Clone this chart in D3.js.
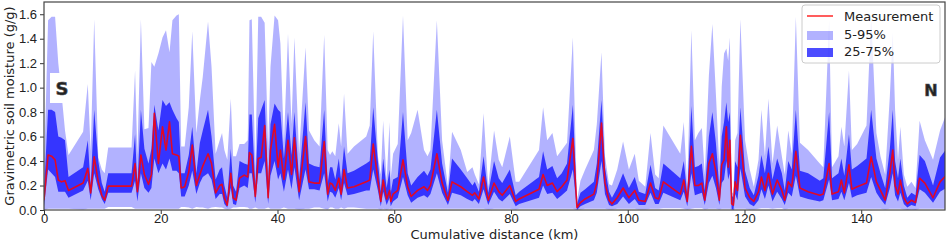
<!DOCTYPE html>
<html>
<head>
<meta charset="UTF-8">
<title>Gravimetric soil moisture along transect</title>
<script src="https://d3js.org/d3.v7.min.js"></script>
<style>
  body { margin: 0; background: #fff; }
  svg { display: block; font-family: "DejaVu Sans", sans-serif; }
  .axis text { font-size: 13px; fill: #222; }
  .axis path { display: none; }
  .axis line { stroke: #333; }
  .axis-title { font-size: 13px; fill: #222; text-anchor: middle; }
  .legend text { font-size: 13px; fill: #222; }
</style>
</head>
<body>
<div id="chart"></div>
<script>
// cumulative distance (km) of each sample point
const distance = [
  0.0, 0.7, 1.3, 1.9, 2.45, 3.0, 3.6, 4.2, 6.7, 7.5,
  8.0, 8.6, 9.3, 9.9, 10.4, 11.0, 15.0, 15.6, 16.0, 16.6,
  17.2, 17.9, 18.4, 18.9, 19.6, 20.3, 20.9, 21.5, 22.0, 22.7,
  23.1, 23.5, 24.1, 24.8, 25.4, 26.1, 26.7, 27.2, 28.1, 28.7,
  29.4, 30.1, 30.5, 30.9, 31.4, 32.0, 32.4, 32.9, 33.5, 34.3,
  34.9, 35.2, 35.6, 36.2, 36.7, 37.2, 37.8, 38.4, 38.8, 39.5,
  40.1, 40.5, 41.1, 41.8, 42.4, 42.9, 43.7, 44.8, 45.4, 46.3,
  47.2, 48.0, 48.6, 49.0, 49.4, 49.9, 50.5, 50.9, 51.4, 52.0,
  53.1, 55.2, 55.8, 56.4, 57.2, 57.7, 58.1, 58.7, 59.2, 59.4,
  59.8, 60.6, 61.5, 62.3, 62.9, 64.0, 65.1, 65.7, 66.2, 67.3,
  68.2, 69.2, 69.9, 71.4, 72.5, 73.4, 73.8, 74.5, 75.3, 76.1,
  77.1, 77.9, 78.5, 79.8, 80.8, 81.4, 84.8, 85.5, 86.2, 87.1,
  87.9, 88.7, 89.6, 90.6, 91.3, 91.9, 92.7, 94.2, 94.7, 95.5,
  96.1, 96.8, 97.3, 98.2, 99.2, 100.2, 101.2, 101.9, 103.0, 103.9,
  104.7, 105.3, 106.1, 109.0, 109.6, 110.2, 110.9, 111.5, 112.1, 112.7,
  113.2, 113.9, 114.5, 115.1, 115.7, 116.1, 116.5, 116.9, 117.2, 117.5,
  117.8, 118.1, 118.4, 118.8, 119.3, 120.1, 120.9, 121.6, 122.4, 122.9,
  123.5, 124.1, 124.8, 125.6, 126.4, 126.9, 127.5, 128.1, 128.8, 129.5,
  130.9, 132.9, 133.5, 134.5, 135.0, 136.1, 136.6, 137.1, 137.9, 138.4,
  139.3, 140.9, 141.7, 142.6, 143.3, 144.1, 144.9, 145.4, 145.8, 146.3,
  146.7, 147.3, 147.9, 148.6, 149.3, 150.0, 150.9, 152.3, 153.5, 154.6
];

// measured soil moisture (g/g)
const measurement = [
  .08, .45, .44, .41, .245, .23, .24, .16, .22, .34,
  .14, .435, .23, .12, .08, .195, .195, .38, .15, .45,
  .29, .21, .29, .79, .38, .68, .49, .72, .46, .45,
  .44, .18, .19, .31, .53, .20, .29, .36, .46, .38,
  .14, .20, .21, .10, .04, .30, .10, .08, .26, .285,
  .27, .47, .45, .11, .42, .43, .69, .10, .49, .70,
  .35, .49, .25, .57, .29, .59, .15, .60, .23, .22,
  .22, .56, .13, .22, .21, .16, .26, .13, .33, .18,
  .19, .23, .245, .54, .245, .07, .245, .09, .16, .07,
  .13, .16, .41, .19, .11, .16, .19, .16, .20, .46,
  .22, .08, .23, .19, .15, .12, .14, .09, .27, .08,
  .22, .15, .12, .20, .07, .09, .17, .29, .20, .22,
  .15, .19, .245, .585, .02, .06, .09, .13, .22, .71,
  .22, .08, .05, .10, .18, .10, .16, .08, .07, .22,
  .10, .09, .23, .13, .245, .07, .52, .20, .20, .22,
  .08, .38, .46, .31, .08, .37, .41, .68, .35, .57,
  .05, .04, .23, .16, .61, .18, .10, .07, .15, .27,
  .16, .30, .13, .245, .16, .08, .23, .19, .48, .18,
  .15, .12, .13, .38, .13, .15, .245, .14, .37, .17,
  .19, .22, .435, .23, .16, .08, .30, .49, .20, .13,
  .245, .10, .05, .08, .06, .26, .22, .10, .23, .285
];

// 5th percentile
const p5 = [
  0, .01, .01, .01, .01, .01, .01, .01, .005, .01,
  .01, .01, .01, .01, .01, .025, .025, .01, .01, .01,
  .01, .01, .01, .01, .01, .01, .01, .01, .01, .01,
  .01, .025, .025, .02, .01, .025, .02, .02, .01, .02,
  .025, .02, .02, .01, .005, .01, .02, .02, .025, .025,
  .02, .01, .01, .02, .01, .01, .01, .02, .01, .01,
  .01, .01, .02, .01, .01, .01, .005, .01, .01, .02,
  .02, .01, .005, .02, .02, .01, .01, .02, .01, .02,
  .02, .01, .01, .01, .01, .005, .01, .005, .01, .005,
  .01, .01, .01, .01, .01, .01, .01, .01, .01, .01,
  .01, .01, .01, .01, .01, .01, .01, .01, .01, .005,
  .01, .01, .01, .01, .005, .01, .01, .01, .01, .01,
  .01, .01, .01, .01, 0, .005, .01, .01, .01, .01,
  .01, .005, .005, .01, .01, .01, .01, .005, .005, .01,
  .01, .01, .015, .015, .01, .005, .01, .015, .015, .015,
  .005, .01, .01, .01, .005, .01, .01, .01, .01, .01,
  0, 0, .01, .01, .01, .01, .005, .005, .01, .015,
  .015, .015, .01, .015, .015, .005, .01, .01, .01, .01,
  .01, .01, .01, .01, .01, .01, .01, .01, .01, .01,
  .01, .01, .01, .01, .01, .005, .01, .01, .01, .01,
  .01, .005, 0, .005, 0, .01, .01, .01, .01, .01
];

// 25th percentile
const p25 = [
  .03, .33, .30, .27, .15, .15, .15, .10, .16, .24,
  .08, .30, .17, .09, .05, .14, .14, .24, .07, .30,
  .18, .14, .18, .42, .30, .38, .33, .42, .32, .32,
  .30, .11, .11, .20, .32, .13, .22, .27, .30, .25,
  .09, .13, .13, .05, .02, .18, .05, .04, .18, .20,
  .18, .30, .30, .06, .30, .30, .40, .05, .28, .40,
  .25, .30, .15, .33, .17, .35, .08, .33, .17, .17,
  .16, .30, .07, .15, .14, .10, .18, .08, .22, .12,
  .13, .16, .16, .33, .16, .03, .15, .04, .10, .03,
  .07, .10, .27, .12, .06, .10, .12, .10, .13, .30,
  .14, .04, .14, .12, .09, .07, .09, .05, .17, .04,
  .15, .09, .07, .13, .03, .05, .10, .20, .13, .14,
  .09, .12, .16, .33, .00, .03, .05, .08, .14, .40,
  .13, .04, .03, .05, .11, .05, .09, .04, .04, .14,
  .05, .05, .14, .08, .15, .03, .30, .12, .13, .14,
  .04, .22, .28, .18, .04, .22, .25, .40, .25, .30,
  .01, .00, .13, .08, .34, .11, .05, .03, .08, .17,
  .09, .20, .07, .15, .09, .04, .14, .11, .28, .11,
  .09, .07, .08, .25, .08, .09, .15, .08, .22, .10,
  .12, .14, .27, .14, .09, .04, .18, .30, .12, .07,
  .14, .05, .02, .04, .03, .17, .14, .06, .15, .18
];

// 75th percentile
const p75 = [
  .15, .82, .82, .80, .60, .59, .57, .27, .35, .57,
  .20, .82, .40, .22, .15, .30, .30, .62, .20, .82,
  .50, .38, .50, .86, .65, .90, .85, .88, .82, .75,
  .72, .30, .30, .45, .68, .30, .55, .65, .82, .60,
  .25, .33, .35, .20, .10, .50, .20, .15, .40, .38,
  .37, .78, .78, .20, .75, .82, .90, .22, .70, .87,
  .82, .80, .42, .80, .45, .80, .25, .88, .38, .36,
  .35, .82, .22, .35, .35, .25, .42, .25, .52, .30,
  .32, .38, .40, .84, .40, .15, .42, .18, .33, .14,
  .25, .27, .80, .30, .20, .27, .32, .28, .33, .82,
  .38, .14, .42, .33, .26, .20, .23, .15, .44, .14,
  .40, .26, .22, .33, .12, .15, .27, .48, .33, .36,
  .26, .30, .38, .86, .05, .14, .17, .23, .38, .90,
  .35, .15, .10, .18, .30, .18, .27, .15, .13, .37,
  .18, .16, .38, .26, .40, .13, .85, .35, .36, .38,
  .16, .60, .80, .55, .18, .60, .72, .88, .72, .80,
  .12, .10, .40, .35, .84, .32, .18, .12, .28, .45,
  .30, .52, .25, .42, .30, .16, .40, .33, .82, .32,
  .30, .24, .26, .80, .26, .30, .42, .28, .62, .33,
  .36, .42, .82, .42, .30, .18, .50, .82, .40, .26,
  .42, .20, .10, .14, .12, .45, .40, .20, .43, .50
];

// 95th percentile
const p95 = [
  .30, 1.55, 1.58, 1.58, 1.20, .95, .65, .45, .64, 1.03,
  .48, 1.56, .43, .33, .30, .51, .51, 1.14, .45, 1.56,
  .66, .67, 1.21, 1.17, 1.28, 1.41, 1.47, 1.29, 1.55, 1.59,
  1.60, .52, .52, .84, 1.46, .63, .90, 1.09, 1.54, 1.17,
  .46, .57, .63, .49, .41, .91, .44, .44, .54, .54,
  .57, 1.55, 1.56, .35, 1.58, 1.58, 1.53, .50, 1.17, 1.59,
  1.55, 1.36, .55, 1.44, .70, 1.41, .46, 1.33, .65, .57,
  .52, 1.43, .49, .45, .48, .44, .71, .52, .95, .46,
  .52, .60, .69, 1.46, .44, .29, .73, .24, .72, .26,
  .46, .54, 1.59, .57, .63, .82, .49, .44, .49, 1.55,
  .57, .19, .64, .49, .31, .35, .29, .21, .79, .19,
  .65, .41, .35, .60, .23, .23, .49, .84, .57, .63,
  .44, .49, .55, 1.41, .08, .24, .33, .49, .70, 1.29,
  .44, .21, .20, .33, .56, .33, .46, .24, .19, .63,
  .29, .26, .69, .46, .72, .19, 1.47, .57, .63, .67,
  .29, 1.10, 1.52, .95, .35, 1.01, 1.28, 1.32, 1.22, 1.41,
  .15, .13, .57, .63, 1.56, .57, .33, .19, .41, .82,
  .44, .91, .38, .69, .44, .29, .65, .46, 1.58, .55,
  .49, .38, .35, 1.55, .35, .44, .68, .52, 1.14, .49,
  .54, .69, 1.58, .63, .44, .29, .93, 1.45, .82, .41,
  .68, .29, .19, .23, .18, .73, .57, .41, .65, .79
];

const xTicks = [0, 20, 40, 60, 80, 100, 120, 140];
const yTicks = [0, 0.2, 0.4, 0.6, 0.8, 1.0, 1.2, 1.4, 1.6];
const legendLabels = ["Measurement", "5-95%", "25-75%"];

// layout
const width = 948, height = 241;
const margin = { top: 2, right: 3, bottom: 31, left: 44 };

const rows = distance.map((d, i) => ({
  x: d, m: measurement[i], lo5: p5[i], lo25: p25[i], hi75: p75[i], hi95: p95[i]
}));

const svg = d3.select("#chart").append("svg")
  .attr("width", width).attr("height", height);

const x = d3.scaleLinear().domain([0, 154.35]).range([margin.left, width - margin.right]);
const y = d3.scaleLinear().domain([0, 1.7]).range([height - margin.bottom, margin.top]);

svg.append("clipPath").attr("id", "plot-clip")
  .append("rect")
  .attr("x", margin.left).attr("y", margin.top)
  .attr("width", width - margin.left - margin.right)
  .attr("height", height - margin.top - margin.bottom);

const plot = svg.append("g").attr("clip-path", "url(#plot-clip)");

// 5-95% band
plot.append("path")
  .datum(rows)
  .attr("fill", "blue").attr("fill-opacity", 0.3)
  .attr("d", d3.area().x(d => x(d.x)).y0(d => y(d.lo5)).y1(d => y(d.hi95)));

// 25-75% band
plot.append("path")
  .datum(rows)
  .attr("fill", "blue").attr("fill-opacity", 0.7)
  .attr("d", d3.area().x(d => x(d.x)).y0(d => y(d.lo25)).y1(d => y(d.hi75)));

// measurement line
plot.append("path")
  .datum(rows)
  .attr("fill", "none").attr("stroke", "red").attr("stroke-opacity", 0.85)
  .attr("stroke-width", 1.6).attr("stroke-linejoin", "round")
  .attr("d", d3.line().x(d => x(d.x)).y(d => y(d.m)));

// S / N labels
svg.append("rect")
  .attr("x", 50).attr("y", 73).attr("width", 22).attr("height", 30)
  .attr("fill", "#fff");
svg.append("text").attr("x", 62).attr("y", 95)
  .attr("text-anchor", "middle").attr("font-size", 18).attr("font-weight", "bold")
  .attr("fill", "#222").attr("stroke", "#555").attr("stroke-width", 0.6)
  .text("S");
svg.append("text").attr("x", 931).attr("y", 96)
  .attr("text-anchor", "middle").attr("font-size", 16).attr("font-weight", "bold")
  .attr("fill", "#222").attr("stroke", "#555").attr("stroke-width", 0.6)
  .text("N");

// axes
svg.append("g")
  .attr("class", "axis")
  .attr("transform", `translate(0,${height - margin.bottom})`)
  .call(d3.axisBottom(x).tickValues(xTicks).tickSize(4).tickPadding(0));

svg.append("g")
  .attr("class", "axis")
  .attr("transform", `translate(${margin.left},0)`)
  .call(d3.axisLeft(y).tickValues(yTicks).tickFormat(d3.format(".1f")).tickSize(4).tickPadding(3));

// frame
svg.append("rect")
  .attr("x", margin.left).attr("y", margin.top)
  .attr("width", width - margin.left - margin.right)
  .attr("height", height - margin.top - margin.bottom)
  .attr("fill", "none").attr("stroke", "#444").attr("stroke-width", 1.2);

// axis titles
svg.append("text").attr("class", "axis-title")
  .attr("x", (margin.left + width - margin.right) / 2).attr("y", 238.5)
  .text("Cumulative distance (km)");

svg.append("text").attr("class", "axis-title")
  .attr("transform", `translate(14,${(margin.top + height - margin.bottom) / 2}) rotate(-90)`)
  .text("Gravimetric soil moisture (g/g)");

// legend
const legend = svg.append("g").attr("class", "legend");
legend.append("rect")
  .attr("x", 802).attr("y", 5).attr("width", 138).attr("height", 58).attr("rx", 3)
  .attr("fill", "#fff").attr("fill-opacity", 0.8).attr("stroke", "#ccc");
legend.append("line")
  .attr("x1", 807).attr("x2", 833).attr("y1", 16).attr("y2", 16)
  .attr("stroke", "red").attr("stroke-opacity", 0.85).attr("stroke-width", 1.5);
legend.append("rect").attr("x", 807).attr("y", 31).attr("width", 26).attr("height", 9)
  .attr("fill", "blue").attr("fill-opacity", 0.3);
legend.append("rect").attr("x", 807).attr("y", 48).attr("width", 26).attr("height", 9)
  .attr("fill", "blue").attr("fill-opacity", 0.7);
legend.selectAll("text.lab")
  .data(legendLabels)
  .enter().append("text").attr("class", "lab")
  .attr("x", 844).attr("y", (d, i) => 21 + i * 17.5)
  .text(d => d);
</script>
</body>
</html>
